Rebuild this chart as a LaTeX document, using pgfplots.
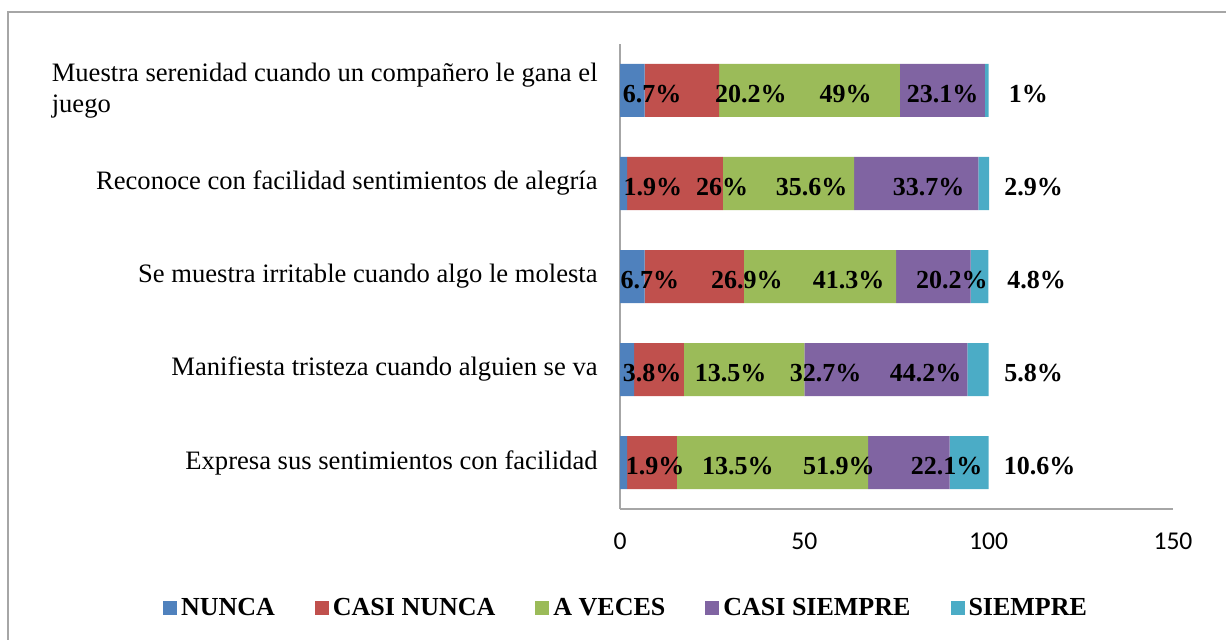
\documentclass[border=0pt]{standalone}
\usepackage{pgfplots}
\pgfplotsset{compat=1.18}
\usepackage{fontspec}
\setmainfont{Liberation Serif}
\newfontfamily\calibri{Carlito}

\definecolor{cNunca}{HTML}{4F81BD}
\definecolor{cCasiNunca}{HTML}{C0504D}
\definecolor{cAVeces}{HTML}{9BBB59}
\definecolor{cCasiSiempre}{HTML}{8064A2}
\definecolor{cSiempre}{HTML}{4BACC6}
\definecolor{axgray}{HTML}{A6A6A6}

\pgfplotsset{
  sq/.style={legend image code/.code={\draw[##1,draw=none] (0pt,-3.5pt) rectangle (7pt,3.5pt);}},
}

\begin{document}
\begin{tikzpicture}
\path[use as bounding box] (0,0) rectangle (613pt,-320pt);
\draw[axgray, line width=0.75pt] (4pt,-330pt) -- (4pt,-6pt) -- (630pt,-6pt);

\begin{axis}[
  at={(310pt,-254.5pt)}, anchor=south west,
  scale only axis, width=276.5pt, height=232.5pt,
  xbar stacked, bar width=26.5pt,
  xmin=0, xmax=150, ymin=-0.5, ymax=4.5,
  xtick={0,50,100,150}, ytick={0,1,2,3,4},
  yticklabels={
    Expresa sus sentimientos con facilidad,
    Manifiesta tristeza cuando alguien se va,
    Se muestra irritable cuando algo le molesta,
    Reconoce con facilidad sentimientos de alegría,
    {\begin{tabular}{@{}l@{}}Muestra serenidad cuando un compañero le gana el\\juego\end{tabular}}
  },
  axis x line*=bottom, axis y line*=left,
  axis line style={draw=axgray, line width=0.75pt, -},
  major tick length=0pt,
  /pgf/number format/assume math mode=true,
  xticklabel style={font=\calibri\fontsize{12.8}{14}\selectfont, inner sep=0pt, anchor=north, yshift=-11.5pt},
  yticklabel style={font=\fontsize{13.3}{15.6}\selectfont, inner sep=0pt, anchor=east, xshift=-11pt},
  legend columns=5,
  legend style={at={(0.0127,-0.213)}, anchor=center, draw=none,
    font=\bfseries\fontsize{13}{15}\selectfont,
    /tikz/every even column/.append style={column sep=18pt}},
]
\addplot[fill=cNunca, draw=none, sq] coordinates {(1.9,0) (3.8,1) (6.7,2) (1.9,3) (6.7,4)};
\addplot[fill=cCasiNunca, draw=none, sq] coordinates {(13.5,0) (13.5,1) (26.9,2) (26,3) (20.2,4)};
\addplot[fill=cAVeces, draw=none, sq] coordinates {(51.9,0) (32.7,1) (41.3,2) (35.6,3) (49,4)};
\addplot[fill=cCasiSiempre, draw=none, sq] coordinates {(22.1,0) (44.2,1) (20.2,2) (33.7,3) (23.1,4)};
\addplot[fill=cSiempre, draw=none, sq] coordinates {(10.6,0) (5.8,1) (4.8,2) (2.9,3) (1,4)};
\legend{NUNCA, CASI NUNCA, A VECES, CASI SIEMPRE, SIEMPRE}
\end{axis}

\begin{axis}[
  at={(310pt,-254.5pt)}, anchor=south west,
  scale only axis, width=276.5pt, height=232.5pt,
  xmin=0, xmax=150, ymin=-0.5, ymax=4.5,
  hide axis,
]
\addplot[draw=none, mark=none, point meta=explicit symbolic,
  nodes near coords={\pgfplotspointmeta\%},
  every node near coord/.append style={anchor=center, yshift=-2pt, inner sep=0pt,
    font=\bfseries\fontsize{13}{15}\selectfont}]
table[meta=l] {
x y l
8.7 4 6.7
35.5 4 20.2
61.2 4 49
87.5 4 23.1
110.8 4 1
8.9 3 1.9
27.7 3 26
52.0 3 35.6
83.7 3 33.7
112.2 3 2.9
8.1 2 6.7
34.4 2 26.9
62.0 2 41.3
90.0 2 20.2
113.0 2 4.8
8.7 1 3.8
30.0 1 13.5
55.8 1 32.7
82.9 1 44.2
112.2 1 5.8
9.5 0 1.9
32.0 0 13.5
59.4 0 51.9
88.6 0 22.1
113.8 0 10.6
};
\end{axis}
\end{tikzpicture}
\end{document}
